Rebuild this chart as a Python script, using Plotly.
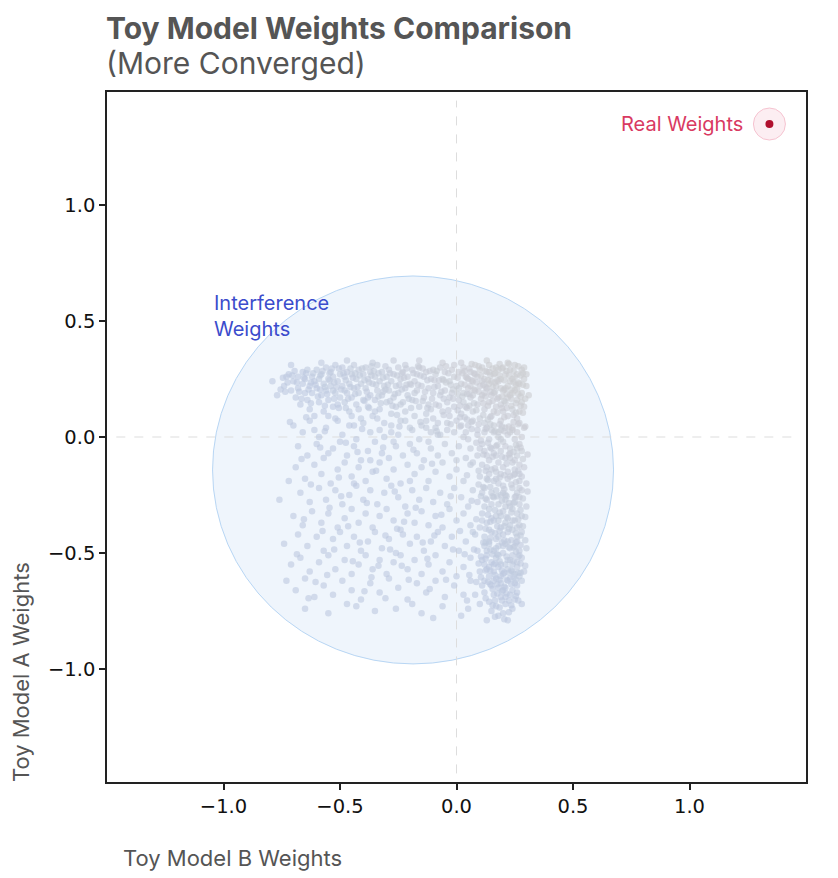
import plotly.graph_objects as go

# Estimated weight pairs (Toy Model B weight, Toy Model A weight)

# dense horizontal band near the top of the cloud
top_band = [
    (-0.79, 0.24), (-0.74, 0.22), (-0.72, 0.27), (-0.71, 0.20), (-0.71, 0.31), (-0.70, 0.24), (-0.69, 0.17), (-0.68, 0.26),
    (-0.68, 0.21), (-0.67, 0.14), (-0.66, 0.28), (-0.66, 0.23), (-0.65, 0.19), (-0.65, 0.25), (-0.64, 0.16), (-0.64, 0.29),
    (-0.63, 0.22), (-0.63, 0.12), (-0.62, 0.26), (-0.62, 0.19), (-0.61, 0.24), (-0.61, 0.09), (-0.77, 0.18), (-0.73, 0.26),
    (-0.60, 0.29), (-0.60, 0.21), (-0.59, 0.25), (-0.59, 0.15), (-0.58, 0.27), (-0.58, 0.18), (-0.57, 0.23), (-0.57, 0.11),
    (-0.56, 0.30), (-0.56, 0.20), (-0.55, 0.25), (-0.55, 0.16), (-0.54, 0.28), (-0.54, 0.22), (-0.53, 0.13), (-0.53, 0.26),
    (-0.52, 0.19), (-0.52, 0.31), (-0.51, 0.24), (-0.51, 0.07), (-0.50, 0.17), (-0.50, 0.27), (-0.58, 0.32), (-0.55, 0.09),
    (-0.53, 0.20), (-0.51, 0.14), (-0.49, 0.30), (-0.49, 0.22), (-0.48, 0.26), (-0.48, 0.15), (-0.47, 0.19), (-0.47, 0.28),
    (-0.46, 0.23), (-0.46, 0.11), (-0.45, 0.27), (-0.45, 0.17), (-0.44, 0.31), (-0.44, 0.21), (-0.43, 0.25), (-0.43, 0.14),
    (-0.42, 0.29), (-0.42, 0.19), (-0.41, 0.23), (-0.41, 0.08), (-0.40, 0.27), (-0.40, 0.16), (-0.47, 0.33), (-0.44, 0.05),
    (-0.42, 0.12), (-0.48, 0.20), (-0.39, 0.30), (-0.39, 0.21), (-0.38, 0.25), (-0.38, 0.13), (-0.37, 0.28), (-0.37, 0.18),
    (-0.36, 0.23), (-0.36, 0.09), (-0.35, 0.26), (-0.35, 0.16), (-0.34, 0.31), (-0.34, 0.20), (-0.33, 0.24), (-0.33, 0.12),
    (-0.32, 0.28), (-0.32, 0.18), (-0.31, 0.22), (-0.31, 0.06), (-0.30, 0.26), (-0.30, 0.15), (-0.36, 0.32), (-0.33, 0.03),
    (-0.38, 0.17), (-0.35, 0.11), (-0.29, 0.29), (-0.29, 0.20), (-0.28, 0.24), (-0.28, 0.10), (-0.27, 0.27), (-0.27, 0.17),
    (-0.26, 0.22), (-0.26, 0.13), (-0.25, 0.30), (-0.25, 0.19), (-0.24, 0.25), (-0.24, 0.07), (-0.23, 0.28), (-0.23, 0.15),
    (-0.22, 0.21), (-0.22, 0.11), (-0.21, 0.26), (-0.21, 0.18), (-0.20, 0.23), (-0.20, 0.04), (-0.27, 0.33), (-0.24, 0.14),
    (-0.22, 0.31), (-0.28, 0.02), (-0.19, 0.29), (-0.19, 0.16), (-0.18, 0.24), (-0.18, 0.09), (-0.17, 0.27), (-0.17, 0.20),
    (-0.16, 0.13), (-0.16, 0.30), (-0.15, 0.22), (-0.15, 0.05), (-0.14, 0.26), (-0.14, 0.17), (-0.13, 0.10), (-0.13, 0.28),
    (-0.12, 0.21), (-0.12, 0.14), (-0.11, 0.25), (-0.11, 0.02), (-0.10, 0.19), (-0.10, 0.29), (-0.16, 0.33), (-0.13, 0.07),
    (-0.18, 0.19), (-0.11, 0.12), (-0.09, 0.27), (-0.09, 0.14), (-0.08, 0.22), (-0.08, 0.06), (-0.07, 0.30), (-0.07, 0.18),
    (-0.06, 0.25), (-0.06, 0.11), (-0.05, 0.20), (-0.05, 0.28), (-0.04, 0.15), (-0.04, 0.03), (-0.03, 0.24), (-0.03, 0.09),
    (-0.02, 0.29), (-0.02, 0.19), (-0.01, 0.13), (-0.01, 0.26), (0.00, 0.22), (0.00, 0.07), (-0.06, 0.32), (-0.03, 0.17),
    (-0.08, 0.01), (-0.01, 0.31), (0.01, 0.28), (0.01, 0.16), (0.02, 0.23), (0.02, 0.10), (0.03, 0.30), (0.03, 0.19),
    (0.04, 0.26), (0.04, 0.13), (0.05, 0.21), (0.05, 0.05), (0.06, 0.28), (0.06, 0.17), (0.07, 0.24), (0.07, 0.11),
    (0.08, 0.31), (0.08, 0.20), (0.09, 0.26), (0.09, 0.14), (0.10, 0.22), (0.10, 0.08), (0.02, 0.32), (0.04, 0.02),
    (0.05, 0.25), (0.07, 0.18), (0.08, 0.27), (0.09, 0.03), (0.03, 0.15), (0.06, 0.22), (0.10, 0.29), (0.01, 0.21),
    (0.11, 0.30), (0.11, 0.18), (0.12, 0.25), (0.12, 0.12), (0.13, 0.28), (0.13, 0.21), (0.14, 0.15), (0.14, 0.31),
    (0.15, 0.24), (0.15, 0.09), (0.16, 0.27), (0.16, 0.19), (0.17, 0.22), (0.17, 0.13), (0.18, 0.29), (0.18, 0.17),
    (0.19, 0.25), (0.19, 0.07), (0.20, 0.20), (0.20, 0.30), (0.12, 0.06), (0.14, 0.23), (0.16, 0.11), (0.18, 0.24),
    (0.13, 0.33), (0.19, 0.14), (0.11, 0.24), (0.15, 0.18), (0.17, 0.30), (0.20, 0.11), (0.12, 0.19), (0.16, 0.05),
    (0.18, 0.02), (0.14, 0.28), (0.19, 0.21), (0.21, 0.27), (0.21, 0.15), (0.22, 0.22), (0.22, 0.09), (0.23, 0.29),
    (0.23, 0.18), (0.24, 0.25), (0.24, 0.12), (0.25, 0.20), (0.25, 0.31), (0.26, 0.16), (0.26, 0.27), (0.27, 0.23),
    (0.27, 0.06), (0.28, 0.29), (0.28, 0.19), (0.29, 0.25), (0.29, 0.13), (0.30, 0.22), (0.30, 0.27), (0.22, 0.32),
    (0.24, 0.03), (0.26, 0.21), (0.23, 0.24), (0.21, 0.04), (0.27, 0.11), (0.25, 0.26), (0.28, 0.15), (0.22, 0.17),
    (0.26, 0.08), (0.31, 0.18), (0.29, 0.30), (0.24, 0.19), (0.21, 0.21),
    (-0.695, 0.285), (-0.675, 0.195), (-0.655, 0.255), (-0.635, 0.205), (-0.615, 0.275), (-0.595, 0.175), (-0.575, 0.285),
    (-0.565, 0.215), (-0.545, 0.245), (-0.525, 0.165), (-0.505, 0.295), (-0.495, 0.205), (-0.475, 0.245), (-0.455, 0.295),
    (-0.435, 0.185), (-0.415, 0.265), (-0.395, 0.155), (-0.375, 0.235), (-0.355, 0.285), (-0.335, 0.175), (-0.315, 0.255),
    (-0.295, 0.225), (-0.275, 0.135), (-0.255, 0.265), (-0.235, 0.205), (-0.215, 0.295), (-0.195, 0.225), (-0.175, 0.155),
    (-0.155, 0.265), (-0.135, 0.195), (-0.115, 0.285), (-0.095, 0.215), (-0.075, 0.245), (-0.055, 0.165), (-0.035, 0.275),
    (-0.015, 0.205), (0.005, 0.255), (0.015, 0.135), (0.025, 0.275), (0.035, 0.225), (0.045, 0.185), (0.055, 0.295),
    (0.065, 0.245), (0.075, 0.145), (0.085, 0.235), (0.095, 0.195), (0.105, 0.265), (0.115, 0.145), (0.125, 0.285),
    (0.135, 0.245), (0.145, 0.195), (0.155, 0.295), (0.165, 0.235), (0.175, 0.165), (0.185, 0.265), (0.195, 0.295),
    (0.205, 0.245), (0.215, 0.185), (0.225, 0.265), (0.235, 0.135), (0.245, 0.285), (0.255, 0.225), (0.265, 0.185),
    (0.275, 0.265), (0.285, 0.225), (0.295, 0.165), (0.125, 0.215), (0.165, 0.275), (0.205, 0.155), (0.245, 0.235),
    (0.065, 0.315), (0.185, 0.315), (0.265, 0.305), (-0.305, 0.305), (-0.505, 0.125), (-0.625, 0.145), (-0.255, 0.095),
    (-0.055, 0.095), (0.045, 0.075), (0.145, 0.055),
    (-0.685, 0.235), (-0.645, 0.275), (-0.605, 0.225), (-0.585, 0.265), (-0.555, 0.185), (-0.535, 0.295), (-0.515, 0.215),
    (-0.485, 0.275), (-0.465, 0.165), (-0.445, 0.255), (-0.425, 0.215), (-0.405, 0.295), (-0.385, 0.195), (-0.365, 0.265),
    (-0.345, 0.225), (-0.325, 0.145), (-0.305, 0.205), (-0.285, 0.275), (-0.265, 0.185), (-0.245, 0.225), (-0.225, 0.255),
    (-0.205, 0.165), (-0.185, 0.275), (-0.165, 0.225), (-0.145, 0.295), (-0.125, 0.245), (-0.105, 0.165), (-0.085, 0.285),
    (-0.065, 0.195), (-0.045, 0.305), (-0.025, 0.225), (-0.665, 0.165), (-0.625, 0.235), (-0.565, 0.135), (-0.525, 0.235),
    (-0.475, 0.125), (-0.435, 0.275), (-0.375, 0.125), (-0.335, 0.275), (-0.285, 0.155), (-0.235, 0.275), (-0.195, 0.125),
    (-0.145, 0.155), (-0.095, 0.245), (-0.055, 0.245), (-0.705, 0.265), (-0.725, 0.235), (-0.745, 0.255), (-0.755, 0.205),
    (-0.735, 0.195), (-0.455, 0.215), (-0.395, 0.245), (-0.315, 0.195), (-0.215, 0.225), (-0.125, 0.125), (-0.075, 0.135),
    (-0.585, 0.205), (-0.545, 0.275), (-0.365, 0.305), (-0.165, 0.305),
]

# very dense upper-right corner where both bands meet
corner = [
    (0.005, 0.115), (0.015, 0.045), (0.025, 0.175), (0.035, 0.085), (0.045, 0.255), (0.055, 0.135), (0.065, 0.065),
    (0.075, 0.205), (0.085, 0.115), (0.095, 0.055), (0.105, 0.165), (0.115, 0.095), (0.125, 0.035), (0.135, 0.135),
    (0.145, 0.085), (0.155, 0.155), (0.165, 0.025), (0.175, 0.105), (0.185, 0.055), (0.195, 0.175), (0.205, 0.085),
    (0.215, 0.125), (0.225, 0.045), (0.235, 0.205), (0.245, 0.095), (0.255, 0.145), (0.265, 0.055), (0.275, 0.175),
    (0.285, 0.105), (0.295, 0.045), (0.105, -0.015), (0.135, 0.075), (0.175, 0.245), (0.215, 0.285), (0.255, 0.105),
    (0.285, 0.275), (0.035, 0.285), (0.075, 0.275), (0.115, 0.225), (0.155, 0.215), (0.195, 0.125), (0.235, 0.165),
    (0.275, 0.135), (0.095, 0.305), (0.145, 0.265), (0.225, 0.315), (0.055, 0.185), (0.085, -0.025), (0.125, 0.175),
    (0.195, 0.045), (0.245, 0.065), (0.265, 0.235), (0.165, 0.195), (0.205, 0.205), (0.045, 0.125), (-0.015, 0.165),
    (-0.035, 0.115), (-0.045, 0.235), (-0.025, 0.055), (0.005, 0.185),
]

# dense vertical band on the right of the cloud
right_band = [
    (0.09, 0.01), (0.11, -0.03), (0.13, 0.04), (0.14, -0.01), (0.16, 0.02), (0.17, -0.04), (0.19, 0.03), (0.20, -0.02),
    (0.22, 0.01), (0.23, -0.05), (0.24, 0.04), (0.25, -0.01), (0.26, 0.02), (0.27, -0.03), (0.28, 0.00), (0.15, -0.05),
    (0.18, 0.00), (0.21, -0.04), (0.12, 0.02), (0.26, -0.05), (0.10, -0.05), (0.29, 0.04),
    (0.09, -0.08), (0.11, -0.12), (0.12, -0.06), (0.14, -0.10), (0.15, -0.14), (0.16, -0.07), (0.18, -0.11), (0.19, -0.06),
    (0.20, -0.13), (0.21, -0.09), (0.22, -0.15), (0.23, -0.07), (0.24, -0.11), (0.25, -0.14), (0.26, -0.08), (0.27, -0.12),
    (0.28, -0.06), (0.17, -0.15), (0.13, -0.13), (0.25, -0.10), (0.29, -0.13), (0.07, -0.11),
    (0.10, -0.17), (0.12, -0.22), (0.13, -0.18), (0.15, -0.24), (0.16, -0.19), (0.17, -0.23), (0.19, -0.16), (0.20, -0.21),
    (0.21, -0.25), (0.22, -0.18), (0.24, -0.22), (0.25, -0.16), (0.26, -0.24), (0.27, -0.19), (0.28, -0.23), (0.14, -0.16),
    (0.18, -0.20), (0.23, -0.17), (0.11, -0.24), (0.27, -0.16), (0.30, -0.20),
    (0.09, -0.28), (0.11, -0.33), (0.13, -0.27), (0.14, -0.31), (0.16, -0.26), (0.17, -0.34), (0.18, -0.29), (0.20, -0.32),
    (0.21, -0.27), (0.22, -0.35), (0.23, -0.30), (0.25, -0.26), (0.26, -0.33), (0.27, -0.29), (0.28, -0.34), (0.15, -0.35),
    (0.19, -0.25), (0.24, -0.31), (0.12, -0.30), (0.27, -0.26), (0.30, -0.30),
    (0.10, -0.39), (0.12, -0.43), (0.13, -0.37), (0.15, -0.41), (0.16, -0.36), (0.17, -0.44), (0.19, -0.39), (0.20, -0.42),
    (0.21, -0.37), (0.22, -0.45), (0.24, -0.40), (0.25, -0.36), (0.26, -0.43), (0.27, -0.38), (0.28, -0.41), (0.14, -0.45),
    (0.18, -0.36), (0.23, -0.38), (0.11, -0.36), (0.26, -0.45), (0.08, -0.42),
    (0.09, -0.49), (0.11, -0.53), (0.12, -0.47), (0.13, -0.51), (0.14, -0.46), (0.15, -0.54), (0.16, -0.49), (0.17, -0.52),
    (0.18, -0.47), (0.19, -0.55), (0.20, -0.50), (0.21, -0.46), (0.22, -0.53), (0.23, -0.48), (0.24, -0.51), (0.25, -0.47),
    (0.26, -0.54), (0.27, -0.49), (0.28, -0.52), (0.16, -0.55), (0.20, -0.47), (0.24, -0.55), (0.13, -0.49), (0.30, -0.48),
    (0.18, -0.51),
    (0.10, -0.58), (0.12, -0.62), (0.13, -0.57), (0.14, -0.60), (0.15, -0.64), (0.16, -0.58), (0.17, -0.61), (0.18, -0.56),
    (0.19, -0.63), (0.20, -0.59), (0.21, -0.65), (0.22, -0.57), (0.23, -0.61), (0.24, -0.58), (0.25, -0.63), (0.26, -0.56),
    (0.27, -0.60), (0.14, -0.56), (0.18, -0.65), (0.22, -0.62), (0.11, -0.64), (0.26, -0.64), (0.29, -0.58),
    (0.12, -0.67), (0.14, -0.71), (0.16, -0.68), (0.17, -0.73), (0.19, -0.69), (0.20, -0.66), (0.21, -0.72), (0.23, -0.68),
    (0.24, -0.74), (0.25, -0.70), (0.18, -0.77), (0.22, -0.79), (0.10, -0.72), (0.26, -0.67), (0.15, -0.75), (0.20, -0.76),
    (0.13, -0.79), (0.08, -0.68), (0.28, -0.72),
    (0.19, -0.01), (0.23, -0.09), (0.17, -0.18), (0.25, -0.28), (0.19, -0.34), (0.14, -0.40), (0.22, -0.41), (0.27, -0.51),
    (0.21, -0.55), (0.16, -0.62), (0.24, -0.66), (0.13, -0.08), (0.28, -0.17), (0.20, -0.24), (0.15, -0.29), (0.24, -0.36),
    (0.18, -0.43), (0.12, -0.55), (0.25, -0.59), (0.19, -0.60), (0.23, 0.02), (0.15, 0.03), (0.27, -0.22), (0.21, -0.30),
    (0.26, -0.39), (0.17, -0.48), (0.23, -0.53), (0.28, -0.62), (0.21, -0.69), (0.17, -0.08),
    (0.135, -0.025), (0.205, 0.025), (0.255, -0.035), (0.155, -0.085), (0.215, -0.115), (0.265, -0.145), (0.125, -0.145),
    (0.185, -0.175), (0.235, -0.205), (0.145, -0.215), (0.255, -0.255), (0.195, -0.275), (0.125, -0.265), (0.235, -0.325),
    (0.165, -0.315), (0.275, -0.315), (0.145, -0.365), (0.205, -0.385), (0.255, -0.415), (0.165, -0.415), (0.235, -0.445),
    (0.125, -0.455), (0.195, -0.455), (0.275, -0.465), (0.155, -0.505), (0.215, -0.515), (0.255, -0.495), (0.125, -0.525),
    (0.185, -0.535), (0.245, -0.535), (0.145, -0.575), (0.205, -0.585), (0.265, -0.585), (0.175, -0.635), (0.235, -0.635),
    (0.135, -0.625), (0.195, -0.665), (0.225, -0.705), (0.165, -0.705), (0.255, -0.685), (0.185, -0.735), (0.115, -0.455),
    (0.105, -0.255), (0.095, -0.145), (0.285, -0.095), (0.285, -0.385), (0.225, -0.075), (0.175, -0.035), (0.245, -0.165),
    (0.205, -0.225), (0.175, -0.255), (0.225, -0.285), (0.185, -0.405), (0.245, -0.475), (0.215, -0.615), (0.165, -0.545),
    (0.275, -0.545), (0.105, -0.605), (0.155, -0.655), (0.235, -0.575),
    (0.115, -0.075), (0.145, -0.045), (0.195, -0.085), (0.245, -0.065), (0.275, -0.045), (0.135, -0.185), (0.165, -0.135),
    (0.205, -0.165), (0.255, -0.195), (0.285, -0.265), (0.115, -0.215), (0.155, -0.255), (0.215, -0.255), (0.245, -0.285),
    (0.135, -0.335), (0.185, -0.325), (0.215, -0.345), (0.265, -0.355), (0.125, -0.395), (0.175, -0.385), (0.225, -0.395),
    (0.275, -0.425), (0.145, -0.435), (0.205, -0.445), (0.255, -0.455), (0.105, -0.515), (0.145, -0.485), (0.175, -0.505),
    (0.225, -0.475), (0.265, -0.515), (0.125, -0.575), (0.165, -0.595), (0.195, -0.575), (0.225, -0.585), (0.255, -0.615),
    (0.145, -0.635), (0.185, -0.615), (0.205, -0.645), (0.245, -0.605), (0.275, -0.585), (0.125, -0.695), (0.175, -0.675),
    (0.215, -0.675), (0.235, -0.725), (0.155, -0.725), (0.195, -0.705), (0.265, -0.705), (0.225, -0.755), (0.165, -0.775),
    (0.205, -0.785), (0.095, -0.545), (0.085, -0.355), (0.095, -0.205), (0.075, -0.485), (0.085, -0.625), (0.295, -0.345),
    (0.295, -0.445), (0.295, -0.555), (0.305, -0.075), (0.305, -0.235),
]

# sparse points filling the lower-left of the cloud
interior = [
    (-0.70, 0.05), (-0.66, 0.02), (-0.63, 0.07), (-0.59, 0.00), (-0.56, 0.04), (-0.52, 0.08), (-0.49, 0.01), (-0.46, 0.05),
    (-0.43, -0.01), (-0.40, 0.06), (-0.37, 0.02), (-0.34, 0.08), (-0.31, 0.00), (-0.28, 0.05), (-0.25, 0.01), (-0.22, 0.07),
    (-0.19, 0.03), (-0.16, -0.01), (-0.13, 0.04), (-0.10, 0.08), (-0.07, 0.01), (-0.04, 0.06), (-0.01, 0.02), (0.02, 0.05),
    (0.05, -0.01), (0.07, 0.07), (-0.61, 0.03), (-0.45, 0.09), (-0.27, -0.02), (-0.09, 0.04), (0.03, 0.00),
    (-0.68, -0.04), (-0.64, -0.08), (-0.60, -0.03), (-0.57, -0.09), (-0.53, -0.05), (-0.50, -0.02), (-0.47, -0.08), (-0.44, -0.04),
    (-0.41, -0.10), (-0.38, -0.06), (-0.35, -0.02), (-0.32, -0.07), (-0.29, -0.09), (-0.26, -0.04), (-0.23, -0.08), (-0.20, -0.03),
    (-0.17, -0.07), (-0.14, -0.10), (-0.11, -0.05), (-0.08, -0.08), (-0.05, -0.03), (-0.02, -0.07), (0.01, -0.04), (0.04, -0.09),
    (0.06, -0.05), (-0.55, -0.07), (-0.37, -0.10), (-0.12, -0.02), (0.00, -0.10),
    (-0.69, -0.13), (-0.65, -0.18), (-0.61, -0.12), (-0.58, -0.16), (-0.54, -0.20), (-0.51, -0.14), (-0.48, -0.11), (-0.45, -0.17),
    (-0.42, -0.13), (-0.39, -0.19), (-0.36, -0.15), (-0.33, -0.11), (-0.30, -0.18), (-0.27, -0.14), (-0.24, -0.20), (-0.21, -0.12),
    (-0.18, -0.16), (-0.15, -0.13), (-0.12, -0.19), (-0.09, -0.15), (-0.06, -0.11), (-0.03, -0.17), (0.00, -0.14), (0.03, -0.19),
    (0.06, -0.12), (-0.72, -0.19), (-0.44, -0.20), (-0.20, -0.19),
    (-0.67, -0.24), (-0.63, -0.28), (-0.59, -0.22), (-0.56, -0.27), (-0.52, -0.23), (-0.49, -0.29), (-0.46, -0.25), (-0.43, -0.21),
    (-0.40, -0.27), (-0.37, -0.23), (-0.34, -0.29), (-0.31, -0.24), (-0.28, -0.21), (-0.25, -0.26), (-0.22, -0.30), (-0.19, -0.23),
    (-0.16, -0.27), (-0.13, -0.22), (-0.10, -0.28), (-0.07, -0.24), (-0.04, -0.29), (-0.01, -0.22), (0.02, -0.26), (0.05, -0.30),
    (0.07, -0.23), (-0.76, -0.27),
    (-0.70, -0.34), (-0.66, -0.38), (-0.62, -0.32), (-0.58, -0.37), (-0.55, -0.33), (-0.51, -0.39), (-0.48, -0.35), (-0.45, -0.31),
    (-0.42, -0.37), (-0.39, -0.33), (-0.36, -0.39), (-0.33, -0.34), (-0.30, -0.31), (-0.27, -0.36), (-0.24, -0.40), (-0.21, -0.33),
    (-0.18, -0.37), (-0.15, -0.32), (-0.12, -0.38), (-0.09, -0.34), (-0.06, -0.39), (-0.03, -0.31), (0.00, -0.36), (0.03, -0.33),
    (0.06, -0.38),
    (-0.74, -0.46), (-0.68, -0.42), (-0.64, -0.47), (-0.60, -0.43), (-0.57, -0.49), (-0.53, -0.44), (-0.50, -0.41), (-0.47, -0.47),
    (-0.44, -0.43), (-0.41, -0.49), (-0.38, -0.45), (-0.35, -0.41), (-0.32, -0.48), (-0.29, -0.44), (-0.26, -0.50), (-0.23, -0.42),
    (-0.20, -0.46), (-0.17, -0.43), (-0.14, -0.49), (-0.11, -0.45), (-0.08, -0.41), (-0.05, -0.47), (-0.02, -0.43), (0.01, -0.49),
    (0.04, -0.45), (0.07, -0.41),
    (-0.71, -0.55), (-0.67, -0.52), (-0.63, -0.58), (-0.59, -0.54), (-0.55, -0.51), (-0.52, -0.57), (-0.48, -0.53), (-0.45, -0.59),
    (-0.42, -0.55), (-0.39, -0.51), (-0.36, -0.57), (-0.33, -0.53), (-0.30, -0.59), (-0.27, -0.54), (-0.24, -0.51), (-0.21, -0.57),
    (-0.18, -0.53), (-0.15, -0.59), (-0.12, -0.55), (-0.09, -0.51), (-0.06, -0.58), (-0.03, -0.54), (0.00, -0.60), (0.03, -0.56),
    (0.06, -0.52),
    (-0.73, -0.62), (-0.69, -0.66), (-0.65, -0.61), (-0.61, -0.69), (-0.57, -0.64), (-0.53, -0.68), (-0.49, -0.62), (-0.45, -0.66),
    (-0.41, -0.70), (-0.37, -0.63), (-0.33, -0.67), (-0.29, -0.61), (-0.25, -0.65), (-0.21, -0.70), (-0.17, -0.63), (-0.13, -0.67),
    (-0.09, -0.62), (-0.05, -0.69), (-0.01, -0.64), (0.03, -0.68), (0.06, -0.62), (-0.47, -0.72), (-0.19, -0.72),
    (-0.65, -0.74), (-0.55, -0.76), (-0.43, -0.73), (-0.35, -0.75), (-0.26, -0.74), (-0.15, -0.76), (-0.06, -0.73), (0.02, -0.77),
    (0.05, -0.74), (-0.10, -0.78),
    (-0.665, -0.095), (-0.585, -0.045), (-0.505, -0.175), (-0.425, -0.065), (-0.345, -0.145), (-0.265, -0.235), (-0.185, -0.055),
    (-0.105, -0.115), (-0.025, -0.255), (0.045, -0.165), (-0.625, -0.205), (-0.545, -0.305), (-0.465, -0.385), (-0.385, -0.285),
    (-0.305, -0.425), (-0.225, -0.365), (-0.145, -0.455), (-0.065, -0.335), (0.015, -0.405), (0.065, -0.275), (-0.685, -0.505),
    (-0.605, -0.625), (-0.525, -0.485), (-0.445, -0.535), (-0.365, -0.605), (-0.285, -0.485), (-0.205, -0.615), (-0.125, -0.525),
    (-0.045, -0.615), (0.035, -0.505), (-0.655, -0.355), (-0.575, -0.405), (-0.495, -0.255), (-0.415, -0.455), (-0.335, -0.555),
    (-0.255, -0.395), (-0.175, -0.305), (-0.095, -0.425), (-0.015, -0.485), (0.055, -0.595), (-0.715, 0.065), (-0.645, 0.085),
    (-0.565, 0.025), (-0.405, 0.035), (-0.245, 0.045), (-0.085, 0.025), (0.015, 0.085), (0.065, 0.035), (-0.475, -0.025),
    (-0.315, -0.045), (-0.155, 0.065), (-0.235, -0.555), (-0.395, -0.665), (-0.555, -0.595), (-0.115, -0.655), (0.045, -0.705),
    (-0.305, -0.695), (-0.635, -0.695),
]

# the single "real" weight pair
real_b = [1.343]
real_a = [1.349]

# the interference circle (bounding box in data units)
circle_b = [-1.047, 0.674]
circle_a = [-0.978, 0.694]

cloud = top_band + corner + right_band + interior
cloud_b = [p[0] for p in cloud]
cloud_a = [p[1] for p in cloud]
# shade: greyer toward the upper-right corner, bluer toward the edges
cloud_shade = [b + a for b, a in cloud]

GREY = "#555555"

fig = go.Figure()

# interference cloud
fig.add_trace(
    go.Scatter(
        x=cloud_b,
        y=cloud_a,
        mode="markers",
        marker=dict(
            size=6.5,
            color=cloud_shade,
            colorscale=[[0, "rgba(188,200,224,0.6)"], [1, "rgba(204,205,209,0.62)"]],
            cmin=-0.45,
            cmax=0.45,
            line=dict(width=0),
            showscale=False,
        ),
        hoverinfo="skip",
        showlegend=False,
    )
)

# real weights: halo then dot
fig.add_trace(
    go.Scatter(
        x=real_b,
        y=real_a,
        mode="markers",
        marker=dict(size=32, color="rgba(250,224,231,0.55)", line=dict(width=1, color="#f6c3d0")),
        hoverinfo="skip",
        showlegend=False,
    )
)
fig.add_trace(
    go.Scatter(
        x=real_b,
        y=real_a,
        mode="markers",
        marker=dict(size=8, color="#b0102e"),
        showlegend=False,
    )
)

# shaded circle + dashed zero lines
fig.add_shape(
    type="circle",
    xref="x", yref="y",
    x0=circle_b[0], x1=circle_b[1], y0=circle_a[0], y1=circle_a[1],
    fillcolor="rgba(225,236,250,0.55)",
    line=dict(color="#b8d6f4", width=1),
    layer="below",
)
fig.add_shape(
    type="line", xref="x", yref="y", x0=0, x1=0, y0=-1.45, y1=1.45,
    line=dict(color="#dddddd", width=1, dash="dash"), layer="below",
)
fig.add_shape(
    type="line", xref="x", yref="y", x0=-1.46, x1=1.46, y0=0, y1=0,
    line=dict(color="#dddddd", width=1, dash="dash"), layer="below",
)

# labels
fig.add_annotation(
    x=real_b[0], y=real_a[0], xref="x", yref="y",
    text="Real Weights", showarrow=False,
    xanchor="right", yanchor="middle", xshift=-24,
    font=dict(family="Inter", size=20, color="#d93a62"),
)
fig.add_annotation(
    x=-1.05, y=0.64, xref="x", yref="y",
    text="Interference<br>Weights", showarrow=False,
    xanchor="left", yanchor="top", align="left",
    font=dict(family="Inter", size=20, color="#3b4ccc"),
)

# title and subtitle
fig.add_annotation(
    x=0, y=1.0928, xref="paper", yref="paper",
    text="<b>Toy Model Weights Comparison</b>", showarrow=False,
    xanchor="left", yanchor="middle", xshift=-3,
    font=dict(family="Inter", size=30, color=GREY),
)
fig.add_annotation(
    x=0, y=1.042, xref="paper", yref="paper",
    text="(More Converged)", showarrow=False,
    xanchor="left", yanchor="middle", xshift=-3,
    font=dict(family="Inter", size=30, color=GREY),
)

# axis titles as annotations (bottom/left aligned like the original)
fig.add_annotation(
    x=0.02, y=-0.11, xref="paper", yref="paper",
    text="Toy Model B Weights", showarrow=False,
    xanchor="left", yanchor="middle",
    font=dict(family="Inter", size=22, color=GREY),
)
fig.add_annotation(
    x=-0.123, y=-0.003, xref="paper", yref="paper",
    text="Toy Model A Weights", showarrow=False, textangle=-90,
    xanchor="center", yanchor="bottom",
    font=dict(family="Inter", size=22, color=GREY),
)

axis_style = dict(
    showgrid=False,
    zeroline=False,
    showline=True,
    linecolor="#222222",
    linewidth=1.5,
    mirror=True,
    ticks="outside",
    ticklen=6,
    tickwidth=1.5,
    tickcolor="#222222",
    tickfont=dict(family="DejaVu Sans", size=19.5, color="#111111"),
    tickvals=[-1.0, -0.5, 0.0, 0.5, 1.0],
    tickformat=".1f",
)

# the page body adds an 8 px offset, margins compensate for it
fig.update_layout(
    width=838,
    height=878,
    margin=dict(l=99, r=40, t=84, b=104),
    paper_bgcolor="white",
    plot_bgcolor="white",
    xaxis=dict(range=[-1.5, 1.5], **axis_style),
    yaxis=dict(range=[-1.487, 1.487], **axis_style),
)

fig.write_html("out.html")
